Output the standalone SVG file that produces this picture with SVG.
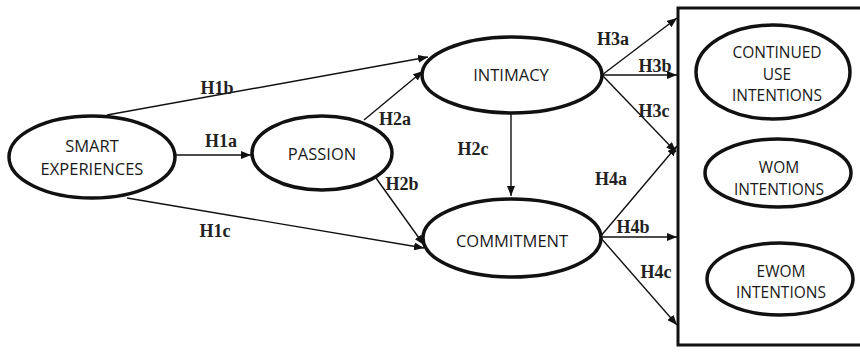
<svg xmlns="http://www.w3.org/2000/svg" width="860" height="354" viewBox="0 0 860 354">
<style>
.node{fill:#fff;stroke:#111;stroke-width:3.5}
.t{font-family:"Open Sans","Liberation Sans",sans-serif;font-size:16.5px;fill:#1a1a1a;text-anchor:middle}
.t2{font-family:"Open Sans","Liberation Sans",sans-serif;font-size:15.5px;fill:#1a1a1a;text-anchor:middle}
.lbl{font-family:"Liberation Serif","Times New Roman",serif;font-size:18px;font-weight:bold;fill:#222;text-anchor:middle}
.c{stroke:#111;stroke-width:1.4;fill:none;marker-end:url(#ah)}
</style>
<defs>
<marker id="ah" viewBox="0 0 10 8" refX="10" refY="4" markerWidth="10" markerHeight="8" markerUnits="userSpaceOnUse" orient="auto">
<path d="M0,0 L10,4 L0,8 Z" fill="#111"/>
</marker>
</defs>
<rect width="860" height="354" fill="#fff"/>
<g id="box"><path d="M862,8 H678 V345 H862" fill="none" stroke="#111" stroke-width="3"/></g>
<g id="connectors">
<line class="c" x1="176" y1="155" x2="251" y2="155"/>
<line class="c" x1="107" y1="115" x2="428" y2="57"/>
<line class="c" x1="127" y1="198" x2="424" y2="248"/>
<line class="c" x1="364" y1="120" x2="423" y2="71"/>
<line class="c" x1="376" y1="178" x2="424" y2="245"/>
<line class="c" x1="511" y1="113" x2="511" y2="196"/>
<line class="c" x1="602" y1="75" x2="677" y2="18"/>
<line class="c" x1="602" y1="75" x2="677" y2="75"/>
<line class="c" x1="602" y1="75" x2="676" y2="152"/>
<line class="c" x1="600" y1="237" x2="677" y2="146"/>
<line class="c" x1="600" y1="237" x2="677" y2="237"/>
<line class="c" x1="600" y1="237" x2="677" y2="325"/>
</g>
<g id="labels">
<text class="lbl" x="221" y="147">H1a</text>
<text class="lbl" x="217" y="94">H1b</text>
<text class="lbl" x="215" y="237">H1c</text>
<text class="lbl" x="395" y="125">H2a</text>
<text class="lbl" x="402" y="190">H2b</text>
<text class="lbl" x="473" y="155">H2c</text>
<text class="lbl" x="613" y="45">H3a</text>
<text class="lbl" x="655" y="72">H3b</text>
<text class="lbl" x="654" y="117">H3c</text>
<text class="lbl" x="611" y="185">H4a</text>
<text class="lbl" x="633" y="233">H4b</text>
<text class="lbl" x="656" y="278">H4c</text>
</g>
<g id="smart"><ellipse class="node" cx="92" cy="157" rx="83" ry="41"/><text class="t" x="92" y="152">SMART</text><text class="t" x="92" y="175">EXPERIENCES</text></g>
<g id="passion"><ellipse class="node" cx="322" cy="153" rx="70" ry="37"/><text class="t" x="322" y="160">PASSION</text></g>
<g id="intimacy"><ellipse class="node" cx="512" cy="75" rx="90" ry="38"/><text class="t" x="511" y="81">INTIMACY</text></g>
<g id="commitment"><ellipse class="node" cx="512" cy="238" rx="89" ry="39"/><text class="t" x="512" y="247">COMMITMENT</text></g>
<g id="continued"><ellipse class="node" cx="773" cy="72" rx="77" ry="47"/><text class="t2" x="777" y="58">CONTINUED</text><text class="t2" x="777" y="80">USE</text><text class="t2" x="777" y="101">INTENTIONS</text></g>
<g id="wom"><ellipse class="node" cx="778" cy="173" rx="73" ry="34"/><text class="t2" x="779" y="173">WOM</text><text class="t2" x="779" y="195">INTENTIONS</text></g>
<g id="ewom"><ellipse class="node" cx="780" cy="279" rx="73" ry="36"/><text class="t2" x="781" y="277">EWOM</text><text class="t2" x="781" y="298">INTENTIONS</text></g>
</svg>
